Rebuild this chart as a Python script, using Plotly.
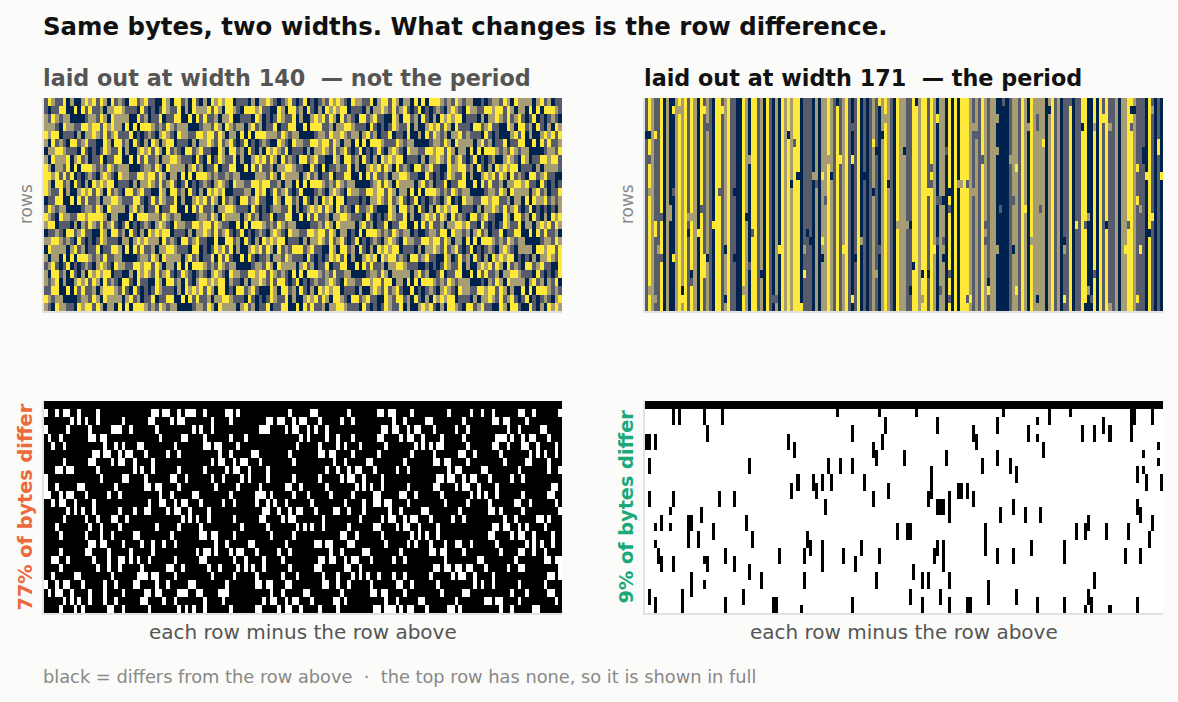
import numpy as np
import plotly.graph_objects as go

# one period (171 bytes), 4 symbols
# N = navy, S = slate, K = khaki, Y = yellow
period = ("SYKSSYNKNN" "KYKYSYKNYS" "KSNYYSKYSS" "NNYKNYYSKN" "YSN"
          "KNYKYKYYNS" "SSNKNKKYKS" "YSKYSNSYNS" "NSKSNKYKSN" "YKK"
          "SSYYKYYSYK" "NKKNYNYNYY" "YKSKSYKSKK" "NNNNSKKSYK" "NYK"
          "KKKNKYSKNS" "SYNSSYYNNY" "NYSYSSKNKK" "YYKSSSNYSN" "SN")

n_rows = 26
widths = [140, 171]

# bytes that do not follow the period: (row, column at width 171, symbol)
mutations = [
    (1, 9, 'Y'), (1, 11, 'K'), (1, 19, 'Y'), (1, 25, 'Y'), (4, 0, 'N'), (4, 1, 'N'),
    (4, 3, 'Y'), (3, 20, 'S'), (7, 1, 'S'), (7, 34, 'K'), (11, 1, 'K'), (11, 9, 'S'),
    (11, 24, 'S'), (11, 29, 'N'), (13, 8, 'K'), (14, 8, 'K'), (14, 5, 'S'), (14, 14, 'K'),
    (14, 15, 'K'), (13, 18, 'S'), (14, 33, 'N'), (15, 3, 'Y'), (16, 3, 'Y'), (15, 22, 'Y'),
    (16, 14, 'N'), (16, 17, 'Y'), (16, 35, 'S'), (18, 4, 'K'), (19, 5, 'S'), (19, 9, 'Y'),
    (19, 19, 'Y'), (20, 19, 'Y'), (19, 20, 'N'), (18, 26, 'N'), (19, 29, 'N'), (20, 34, 'S'),
    (21, 15, 'N'), (21, 19, 'Y'), (21, 38, 'N'), (22, 15, 'S'), (23, 1, 'K'), (23, 12, 'N'),
    (23, 32, 'K'), (24, 3, 'K'), (24, 12, 'Y'), (24, 26, 'N'), (24, 42, 'S'),
    (4, 47, 'N'), (5, 49, 'S'), (9, 50, 'N'), (10, 48, 'N'), (10, 56, 'S'), (9, 55, 'K'),
    (9, 58, 'Y'), (9, 61, 'N'), (7, 60, 'K'), (7, 64, 'Y'), (0, 63, 'N'), (3, 68, 'S'),
    (7, 68, 'Y'), (12, 59, 'S'), (9, 72, 'N'), (11, 75, 'N'), (5, 75, 'Y'), (6, 76, 'N'),
    (4, 78, 'N'), (2, 79, 'K'), (0, 77, 'Y'), (10, 80, 'N'), (6, 85, 'N'), (15, 83, 'K'),
    (16, 53, 'N'), (17, 54, 'N'), (17, 58, 'Y'), (18, 44, 'Y'), (18, 52, 'K'), (17, 71, 'K'),
    (18, 65, 'Y'), (19, 58, 'N'), (19, 69, 'N'), (18, 77, 'S'), (21, 52, 'Y'), (21, 76, 'K'),
    (24, 68, 'Y'), (25, 51, 'Y'), (24, 43, 'S'),
    (0, 89, 'N'), (2, 96, 'Y'), (0, 118, 'S'), (2, 116, 'K'), (4, 109, 'S'), (3, 108, 'K'),
    (3, 126, 'K'), (6, 99, 'S'), (7, 111, 'S'), (6, 116, 'K'), (7, 120, 'K'), (8, 122, 'Y'),
    (8, 94, 'S'), (10, 94, 'S'), (10, 103, 'K'), (10, 104, 'K'), (10, 106, 'S'), (11, 93, 'Y'),
    (11, 100, 'N'), (11, 108, 'K'), (12, 96, 'S'), (12, 97, 'S'), (12, 98, 'N'), (13, 100, 'S'),
    (12, 121, 'S'), (13, 117, 'S'), (13, 125, 'Y'), (15, 86, 'K'), (15, 87, 'N'), (15, 112, 'S'),
    (17, 96, 'S'), (17, 98, 'S'), (17, 112, 'S'), (18, 116, 'K'), (18, 121, 'N'), (17, 127, 'K'),
    (18, 95, 'Y'), (19, 98, 'N'), (20, 88, 'N'), (21, 91, 'N'), (21, 93, 'N'), (21, 100, 'S'),
    (22, 113, 'N'), (23, 113, 'Y'), (23, 122, 'Y'), (23, 87, 'N'), (23, 97, 'S'), (24, 91, 'K'),
    (24, 100, 'S'), (24, 106, 'S'), (24, 107, 'Y'),
    (2, 129, 'S'), (3, 129, 'S'), (1, 133, 'N'), (0, 140, 'S'), (2, 151, 'Y'), (3, 144, 'N'),
    (3, 148, 'K'), (3, 153, 'K'), (3, 160, 'S'), (1, 160, 'N'), (1, 161, 'N'), (1, 167, 'K'),
    (5, 131, 'Y'), (6, 164, 'N'), (7, 164, 'N'), (5, 169, 'Y'), (6, 169, 'Y'), (8, 162, 'Y'),
    (9, 165, 'Y'), (9, 170, 'Y'), (13, 130, 'S'), (12, 162, 'Y'), (13, 163, 'K'), (14, 146, 'K'),
    (14, 167, 'Y'), (15, 142, 'Y'), (15, 145, 'S'), (15, 152, 'N'), (15, 159, 'S'), (16, 166, 'N'),
    (17, 138, 'N'), (18, 138, 'K'), (18, 158, 'Y'), (18, 163, 'Y'), (21, 148, 'S'), (23, 146, 'K'),
    (24, 129, 'N'), (24, 138, 'Y'), (24, 147, 'S'), (24, 162, 'Y'), (25, 145, 'N'), (25, 146, 'N'),
    (25, 153, 'K'),
]

symbols = "NSKY"
palette = ["#00224e", "#575c6d", "#a69d75", "#fee838"]

subtitles = ["laid out at width 140  \u2014 not the period", "laid out at width 171  \u2014 the period"]
diff_labels = ["77% of bytes differ", "9% of bytes differ"]
diff_colors = ["#ec6a3c", "#1ba97a"]

# build the byte stream
plen = len(period)
stream = np.array([symbols.index(c) for c in period] * n_rows)
for r, c, s in mutations:
    stream[r * plen + c] = symbols.index(s)

cscale = [[i / 3, col] for i, col in enumerate(palette)]

fig = go.Figure()

xdom = [[0, 0.4629], [0.5371, 1.0]]
ydom_top = [0.5864, 1.0]
ydom_bot = [0.0, 0.4117]

for i, w in enumerate(widths):
    grid = stream[:n_rows * w].reshape(n_rows, w)
    diff = np.vstack([np.ones((1, w)), (grid[1:] != grid[:-1]).astype(float)])

    xa_top, ya_top = 'x%d' % (2 * i + 1), 'y%d' % (2 * i + 1)
    xa_bot, ya_bot = 'x%d' % (2 * i + 2), 'y%d' % (2 * i + 2)

    fig.add_trace(go.Heatmap(z=grid, colorscale=cscale, zmin=0, zmax=3, showscale=False,
                             xaxis=xa_top, yaxis=ya_top, hoverinfo='skip'))
    fig.add_trace(go.Heatmap(z=diff, colorscale=[[0, 'white'], [1, 'black']], zmin=0, zmax=1,
                             showscale=False, xaxis=xa_bot, yaxis=ya_bot, hoverinfo='skip'))

    for xa, ya, yd in [(xa_top, ya_top, ydom_top), (xa_bot, ya_bot, ydom_bot)]:
        xkey = 'xaxis' + xa[1:]
        ykey = 'yaxis' + ya[1:]
        fig.update_layout({
            xkey: dict(domain=xdom[i], anchor=ya, range=[-0.5, w - 0.5], showticklabels=False,
                       ticks='', showgrid=False, zeroline=False, showline=True,
                       linecolor='#e2e2e0', linewidth=2),
            ykey: dict(domain=yd, anchor=xa, range=[n_rows - 0.5, -0.5], showticklabels=False,
                       ticks='', showgrid=False, zeroline=False, showline=True,
                       linecolor='#e2e2e0', linewidth=2),
        })

    x0 = xdom[i][0]
    xc = (xdom[i][0] + xdom[i][1]) / 2
    fig.add_annotation(text="<b>%s</b>" % subtitles[i], x=x0, y=1.0388, xref='paper', yref='paper',
                       xanchor='left', yanchor='middle', showarrow=False, xshift=-3,
                       font=dict(size=22.3, color='#555555' if i == 0 else '#111111'))
    fig.add_annotation(text="rows", x=x0 - 0.0165, y=(ydom_top[0] + ydom_top[1]) / 2,
                       xref='paper', yref='paper', textangle=-90, showarrow=False,
                       xanchor='center', yanchor='middle', font=dict(size=17, color='#888888'))
    fig.add_annotation(text="<b>%s</b>" % diff_labels[i], x=x0 - 0.0165,
                       y=(ydom_bot[0] + ydom_bot[1]) / 2, xref='paper', yref='paper',
                       textangle=-90, showarrow=False, xanchor='center', yanchor='middle',
                       font=dict(size=19.3, color=diff_colors[i]))
    fig.add_annotation(text="each row minus the row above", x=xc, y=-0.0369,
                       xref='paper', yref='paper', showarrow=False, xanchor='center',
                       yanchor='middle', font=dict(size=20, color='#555555'))

fig.add_annotation(text="<b>Same bytes, two widths. What changes is the row difference.</b>",
                   x=0, y=1.1379, xref='paper', yref='paper', xanchor='left', yanchor='middle',
                   showarrow=False, xshift=-3, font=dict(size=24.4, color='#111111'))
fig.add_annotation(text="black = differs from the row above  \u00b7  the top row has none, so it is shown in full",
                   x=0, y=-0.124, xref='paper', yref='paper', xanchor='left', yanchor='middle',
                   showarrow=False, xshift=-3, font=dict(size=17.8, color='#888888'))

fig.update_layout(width=1178, height=702, margin=dict(l=44, r=15, t=98, b=89),
                  paper_bgcolor='#fbfbf9', plot_bgcolor='#fbfbf9',
                  font=dict(family='DejaVu Sans'), showlegend=False)

fig.write_html("out.html", config={'displayModeBar': False},
               post_script="document.body.style.margin='0';"
                           "document.body.style.background='#fbfbf9';"
                           "document.body.style.overflow='hidden';")
